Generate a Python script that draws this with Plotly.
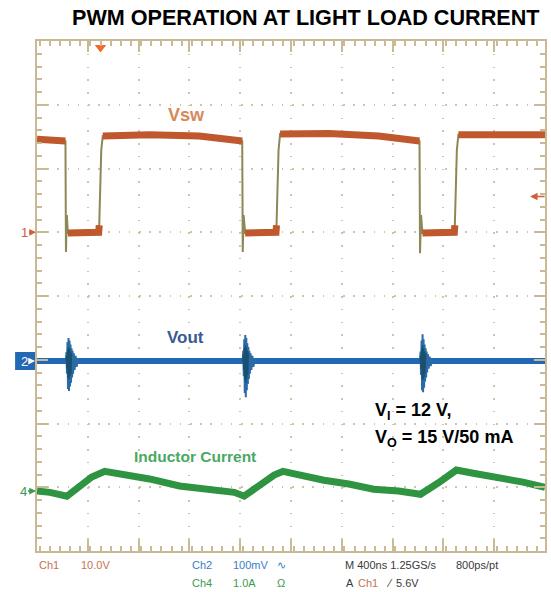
import plotly.graph_objects as go

# --- time base: 400 ns/div, 10 div, t = 0 at trigger (Vsw rising edge) ---
t_left, t_right = -500, 3500
ns_per_div = 400
trig_time = 0
trig_level = 5.6  # V on Ch1

# --- channel settings: scale per div, ground marker (div from centre) ---
ch1_scale, ch1_pos = 10.0, 1.0     # Vsw  [V/div]
ch2_scale, ch2_pos = 100.0, -1.02  # Vout [mV/div], AC
ch4_scale, ch4_pos = 1.0, -3.06    # IL   [A/div]

# --- Ch1: switch node voltage (V) ---
vsw_t = [-500, -284, -276, -272, -265, -257, -14, -10, -2, 6, 18, 386, 778, 1092,
         1116, 1120, 1127, 1139, 1382, 1386, 1394, 1402, 1414, 1798, 2190, 2488,
         2512, 2516, 2524, 2535, 2786, 2790, 2798, 2806, 2818, 3500]
vsw_v = [14.6, 14.4, 14.3, -3.1, 2.7, -0.1, 0.0, 1.1, 6.6, 12.9, 15.1, 15.3, 15.1, 14.4,
         14.3, -3.1, 2.7, -0.1, 0.0, 1.1, 6.6, 12.9, 15.4, 15.5, 15.1, 14.4,
         14.3, -3.3, 2.7, -0.1, 0.0, 1.1, 6.6, 12.9, 15.3, 15.3]

# --- Ch2: output ripple (mV), ringing bursts at each switch turn-on ---
vout_base_mv = 0
burst1_t = [-272, -268, -264, -260, -256, -252, -248, -244, -240, -236, -232, -228,
            -224, -220, -216, -210, -204, -196, -188, -178, -168]
burst1_mv = [0, 14, -20, 30, -44, 36, -47, 32, -40, 26, -34, 20, -26, 16, -20, 12,
             -14, 8, -9, 4, 0]
burst2_t = [1120, 1124, 1128, 1132, 1136, 1140, 1144, 1148, 1152, 1156, 1160, 1164,
            1168, 1172, 1176, 1182, 1188, 1196, 1204, 1214, 1224]
burst2_mv = [0, 16, -24, 34, -50, 41, -57, 36, -46, 28, -36, 22, -28, 16, -20, 12,
             -14, 8, -9, 4, 0]
burst3_t = [2516, 2520, 2524, 2528, 2532, 2536, 2540, 2544, 2548, 2552, 2556, 2560,
            2564, 2568, 2572, 2578, 2584, 2592, 2600, 2610, 2620]
burst3_mv = [0, 15, -22, 32, -46, 42, -49, 34, -42, 26, -32, 20, -26, 15, -18, 11,
             -12, 7, -8, 4, 0]

# --- Ch4: inductor current (A) ---
il_t = [-500, -398, -265, -163, -69, 33, 151, 386, 622, 857, 1053, 1131, 1249, 1367,
        1437, 1563, 1759, 1955, 2151, 2347, 2520, 2661, 2802, 2935, 3131, 3327, 3500]
il_a = [0.00, -0.02, -0.08, 0.08, 0.22, 0.31, 0.27, 0.19, 0.08, 0.02, -0.02, -0.08,
        0.08, 0.25, 0.31, 0.25, 0.17, 0.11, 0.03, 0.00, -0.05, 0.13, 0.33, 0.28,
        0.22, 0.14, 0.06]

# --- readout texts below the graticule ---
readout_text = ["Ch1", "10.0V", "Ch2", "100mV", "∿", "M 400ns 1.25GS/s", "800ps/pt",
                "Ch4", "1.0A", "Ω", "A", "Ch1", "⁄", "5.6V"]
readout_col = ["#C8714F", "#C8714F", "#3B7CC8", "#3B7CC8", "#3B7CC8", "#3A3A3A", "#3A3A3A",
               "#3C9A50", "#3C9A50", "#3C9A50", "#3A3A3A", "#C8714F", "#3A3A3A", "#3A3A3A"]
readout_x = [37, 79, 191, 232, 276, 344, 456, 191, 232, 276, 345, 357, 385, 395]
readout_row = [0, 0, 0, 0, 0, 0, 0, 1, 1, 1, 1, 1, 1, 1]

ORANGE = "#C0582E"
EDGE = "#8C8858"
BLUE = "#2268B4"
GREEN = "#2F9442"
FRAME = "#C9B994"
GRID = "#CFC5A6"


def div1(v):
    return ch1_pos + v / ch1_scale


def div2(v):
    return ch2_pos + v / ch2_scale


def div4(v):
    return ch4_pos + v / ch4_scale


# plateaus of Vsw drawn thick; fast edges drawn as thin persistence lines
plat_x, plat_y = [], []
for i in range(len(vsw_t) - 1):
    if abs(vsw_v[i + 1] - vsw_v[i]) <= 2:
        if not plat_x or plat_x[-1] != vsw_t[i]:
            if plat_x:
                plat_x.append(None)
                plat_y.append(None)
            plat_x.append(vsw_t[i])
            plat_y.append(div1(vsw_v[i]))
        plat_x.append(vsw_t[i + 1])
        plat_y.append(div1(vsw_v[i + 1]))

fig = go.Figure()
fig.add_trace(go.Scatter(x=vsw_t, y=[div1(v) for v in vsw_v], mode="lines",
                         line=dict(color=EDGE, width=2)))
fig.add_trace(go.Scatter(x=plat_x, y=plat_y, mode="lines",
                         line=dict(color=ORANGE, width=7)))
fig.add_trace(go.Scatter(x=[t_left, t_right], y=[div2(vout_base_mv)] * 2, mode="lines",
                         line=dict(color=BLUE, width=6)))
for bt, bv in [(burst1_t, burst1_mv), (burst2_t, burst2_mv), (burst3_t, burst3_mv)]:
    fig.add_trace(go.Scatter(x=bt, y=[div2(v) for v in bv], mode="lines",
                             line=dict(color="#2A6AA6", width=2)))
    fig.add_trace(go.Scatter(x=bt[:12], y=[div2(v * 0.6) for v in bv[:12]], mode="lines",
                             line=dict(color="#1B4F6E", width=1.2)))
fig.add_trace(go.Scatter(x=il_t, y=[div4(v) for v in il_a], mode="lines",
                         line=dict(color=GREEN, width=7)))
# trigger position marker on top edge
fig.add_trace(go.Scatter(x=[trig_time], y=[3.9], mode="markers", cliponaxis=False,
                         marker=dict(symbol="triangle-down", size=10, color="#F26A2A")))

L, R, T, B = 37, 547, 41, 551


def px(x, y):
    return dict(x=(x - L) / (R - L), y=(B - y) / (B - T), xref="paper", yref="paper")


bold = "Liberation Sans, Arial, sans-serif"
ann = [
    dict(text="<b>PWM OPERATION AT LIGHT LOAD CURRENT</b>", xanchor="right",
         font=dict(family=bold, size=21.6, color="black"), **px(543, 18)),
    dict(text="<b>Vsw</b>", font=dict(family=bold, size=18, color="#D8875C"), **px(187, 115)),
    dict(text="<b>Vout</b>", font=dict(family=bold, size=17, color="#3B5A8E"), **px(186, 338)),
    dict(text="<b>Inductor Current</b>", font=dict(family=bold, size=15.5, color="#4BA863"),
         **px(196, 456)),
    dict(text="<b>V<sub>I</sub> = 12 V,</b>", xanchor="left",
         font=dict(family=bold, size=18, color="black"), **px(374, 411)),
    dict(text="<b>V<sub>O</sub> = 15 V/50 mA</b>", xanchor="left",
         font=dict(family=bold, size=18, color="black"), **px(374, 438)),
]
for txt, col, x, row in zip(readout_text, readout_col, readout_x, readout_row):
    ann.append(dict(text=txt, xanchor="left", font=dict(family=bold, size=11, color=col),
                    **px(x, 565 + 18 * row)))
for a in ann:
    a.setdefault("xanchor", "center")
    a["yanchor"] = "middle"
    a["showarrow"] = False

# channel ground markers on the left edge
ypix = lambda d: 296 - d * 63.75
arrow = dict(showarrow=True, ay=0, arrowhead=2, arrowsize=0.9, arrowwidth=1.5)
ann.append(dict(text="1", ax=-12, arrowcolor="#D0603A",
                font=dict(family=bold, size=13, color="#D0603A"), **arrow, **px(36, ypix(ch1_pos))))
ann.append(dict(text="4", ax=-13, arrowcolor="#3C9A50",
                font=dict(family=bold, size=13, color="#3C9A50"), **arrow, **px(36, ypix(ch4_pos))))
ann.append(dict(text="2", ax=-11, arrowcolor="white",
                font=dict(family=bold, size=13, color="white"), **arrow, **px(35, ypix(ch2_pos))))
# trigger level marker on the right edge
ann.append(dict(text="", showarrow=True, ax=16, ay=0, arrowhead=2, arrowsize=1,
                arrowwidth=1.5, arrowcolor="#D0603A",
                **px(532, ypix(ch1_pos + trig_level / ch1_scale))))

shapes = [dict(type="rect", xref="paper", yref="paper", layer="below",
               x0=(15 - L) / (R - L), x1=0, y0=(B - ypix(ch2_pos) - 9) / (B - T),
               y1=(B - ypix(ch2_pos) + 9) / (B - T), fillcolor="#2268B4", line=dict(width=0))]

axis_common = dict(showline=True, linecolor=FRAME, linewidth=2, mirror="ticks", ticks="inside",
                   tickcolor=FRAME, tickwidth=1.5, ticklen=11, showticklabels=False,
                   showgrid=True, gridcolor=GRID, gridwidth=1.5, zeroline=False, fixedrange=True)
fig.update_layout(
    width=551, height=592,
    margin=dict(l=L, r=551 - R, t=T, b=592 - B),
    paper_bgcolor="white", plot_bgcolor="white",
    showlegend=False,
    xaxis=dict(range=[t_left, t_right], dtick=ns_per_div, tick0=t_left, griddash="1.5px,11.25px",
               minor=dict(ticks="inside", ticklen=5, dtick=ns_per_div / 5, tickcolor=FRAME,
                          tickwidth=1.5, showgrid=False), **axis_common),
    yaxis=dict(range=[-4, 4], dtick=1, tick0=0, griddash="1.5px,8.7px",
               minor=dict(ticks="inside", ticklen=5, dtick=0.2, tickcolor=FRAME,
                          tickwidth=1.5, showgrid=False), **axis_common),
    annotations=ann,
    shapes=shapes,
)

fig.write_html("out.html", config={"displayModeBar": False},
               post_script="document.body.style.margin='0';")
